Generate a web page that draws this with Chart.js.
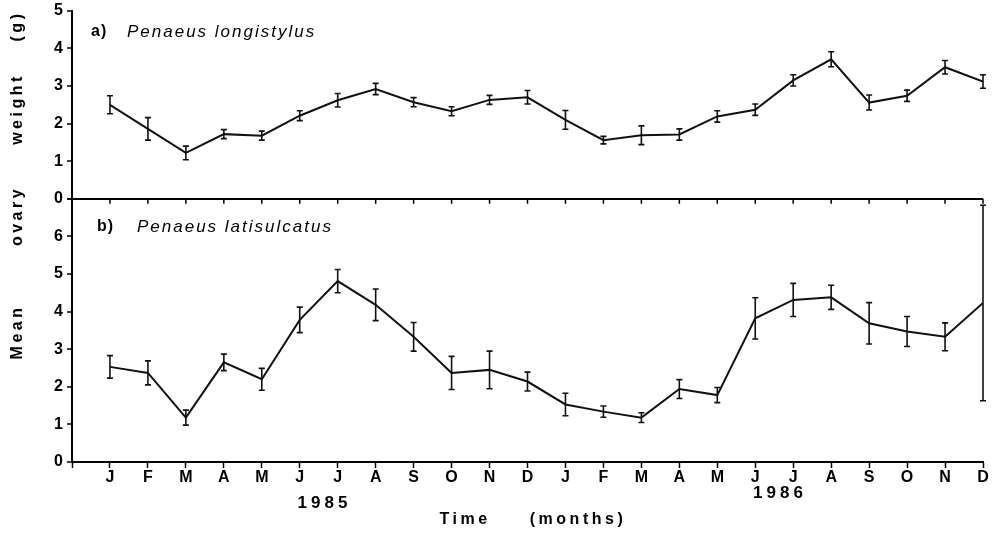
<!DOCTYPE html>
<html>
<head>
<meta charset="utf-8">
<script src="https://cdn.jsdelivr.net/npm/chart.js@4.4.0/dist/chart.umd.min.js"></script>
<style>
  html, body { margin: 0; padding: 0; background: #fff; }
  #wrap { width: 1000px; height: 535px; }
</style>
</head>
<body>
<div id="wrap"><canvas id="chart" width="1000" height="535"></canvas></div>
<script>
// months Jan 1985 -> Dec 1986
const months = ['J','F','M','A','M','J','J','A','S','O','N','D','J','F','M','A','M','J','J','A','S','O','N','D'];
const years = ['1985', '1986'];

// a) Penaeus longistylus - mean ovary weight (g) and error
const longistylusMean = [2.50, 1.86, 1.22, 1.72, 1.68, 2.21, 2.62, 2.92, 2.57, 2.33, 2.63, 2.70,
                         2.10, 1.56, 1.69, 1.71, 2.19, 2.37, 3.15, 3.71, 2.56, 2.74, 3.50, 3.12];
const longistylusErr  = [0.24, 0.30, 0.18, 0.12, 0.12, 0.13, 0.18, 0.15, 0.12, 0.12, 0.12, 0.18,
                         0.25, 0.10, 0.25, 0.15, 0.15, 0.15, 0.15, 0.20, 0.20, 0.15, 0.18, 0.18];

// b) Penaeus latisulcatus
const latisulcatusMean = [2.53, 2.37, 1.18, 2.65, 2.20, 3.78, 4.81, 4.18, 3.33, 2.37, 2.45, 2.14,
                          1.53, 1.34, 1.18, 1.94, 1.78, 3.82, 4.31, 4.38, 3.69, 3.47, 3.33, 4.23];
const latisulcatusErr  = [0.30, 0.32, 0.20, 0.22, 0.29, 0.34, 0.31, 0.42, 0.38, 0.44, 0.50, 0.25,
                          0.30, 0.15, 0.13, 0.25, 0.20, 0.55, 0.44, 0.32, 0.55, 0.40, 0.37, 2.60];

const topMax = 5;
const bottomMax = 7;

const FONT = '"Liberation Sans", Arial, sans-serif';
Chart.defaults.font.family = FONT;
Chart.defaults.color = '#000';

// error bars + small ticks on the panel divider
const errorBars = {
    id: 'errorBars',
    afterDatasetsDraw(chart) {
        const ctx = chart.ctx;
        const xs = chart.scales.x;
        chart.data.datasets.forEach(ds => {
            const ys = chart.scales[ds.yAxisID];
            ctx.save();
            ctx.strokeStyle = '#111';
            ctx.lineWidth = 1.6;
            ds.data.forEach((p, i) => {
                const e = ds.err[i];
                const x = xs.getPixelForValue(p.x);
                const y1 = ys.getPixelForValue(p.y + e);
                const y2 = ys.getPixelForValue(p.y - e);
                ctx.beginPath();
                ctx.moveTo(x, y1); ctx.lineTo(x, y2);
                ctx.moveTo(x - 3, y1); ctx.lineTo(x + 3, y1);
                ctx.moveTo(x - 3, y2); ctx.lineTo(x + 3, y2);
                ctx.stroke();
            });
            ctx.restore();
        });
        // ticks under the divider line
        const yd = chart.scales.yTop.getPixelForValue(0);
        ctx.save();
        ctx.strokeStyle = '#000';
        ctx.lineWidth = 1.5;
        months.forEach((m, i) => {
            const x = xs.getPixelForValue(i);
            ctx.beginPath();
            ctx.moveTo(x, yd);
            ctx.lineTo(x, yd + 5);
            ctx.stroke();
        });
        ctx.restore();
    }
};

// panel labels, axis titles, years
const labels = {
    id: 'labels',
    afterDraw(chart) {
        const ctx = chart.ctx;
        const xs = chart.scales.x;
        ctx.save();
        ctx.fillStyle = '#000';
        ctx.textBaseline = 'middle';

        ctx.textAlign = 'left';
        ctx.letterSpacing = '1px';
        ctx.font = 'bold 16px ' + FONT;
        ctx.fillText('a)', 91, 32);
        ctx.fillText('b)', 97, 227);
        ctx.letterSpacing = '2px';
        ctx.font = 'italic 17px ' + FONT;
        ctx.fillText('Penaeus longistylus', 127, 32);
        ctx.fillText('Penaeus latisulcatus', 137, 227);

        ctx.textAlign = 'center';
        ctx.letterSpacing = '4px';
        ctx.font = 'bold 17px ' + FONT;
        ctx.fillText(years[0], xs.getPixelForValue(5.6) + 2, 503);
        ctx.fillText(years[1], xs.getPixelForValue(17.6) + 2, 493);

        ctx.letterSpacing = '3.5px';
        ctx.font = 'bold 16px ' + FONT;
        ctx.fillText('Time', 465, 520);
        ctx.fillText('(months)', 578, 520);

        // y title, rotated
        ctx.translate(18, 0);
        ctx.rotate(-Math.PI / 2);
        [['Mean', 334], ['ovary', 218], ['weight', 111], ['(g)', 28]].forEach(([w, y]) => {
            ctx.fillText(w, -y + 2, 0);
        });
        ctx.restore();
    }
};

const tickFont = { family: FONT, size: 16, weight: 'bold', lineHeight: 0.85 };

const yScale = (max, stackWeight) => ({
    type: 'linear',
    position: 'left',
    stack: 'ovary',
    stackWeight: stackWeight,
    min: 0,
    max: max,
    ticks: {
        stepSize: 1,
        autoSkip: false,
        font: tickFont,
        padding: 4,
        callback: v => (v === max && max === bottomMax) ? '' : v
    },
    grid: {
        drawOnChartArea: true,
        color: c => (c.tick && c.tick.value === 0 && max === topMax) ? '#000' : 'rgba(0,0,0,0)',
        lineWidth: 2,
        tickLength: 5,
        tickColor: '#000',
        tickWidth: 1.5
    },
    border: { display: true, color: '#000', width: 2 },
    afterFit: s => { s.width = 30; }
});

new Chart(document.getElementById('chart'), {
    type: 'line',
    data: {
        datasets: [
            {
                label: 'Penaeus longistylus',
                data: months.map((m, i) => ({ x: i, y: longistylusMean[i] })),
                err: longistylusErr,
                yAxisID: 'yTop',
                borderColor: '#111',
                borderWidth: 2,
                pointRadius: 0,
                tension: 0
            },
            {
                label: 'Penaeus latisulcatus',
                data: months.map((m, i) => ({ x: i, y: latisulcatusMean[i] })),
                err: latisulcatusErr,
                yAxisID: 'yBot',
                borderColor: '#111',
                borderWidth: 2,
                pointRadius: 0,
                tension: 0
            }
        ]
    },
    options: {
        responsive: false,
        animation: false,
        layout: { padding: { top: 4, left: 42, right: 17, bottom: 0 } },
        plugins: { legend: { display: false }, tooltip: { enabled: false } },
        scales: {
            x: {
                type: 'linear',
                min: -1,
                max: 23,
                ticks: {
                    stepSize: 1,
                    autoSkip: false,
                    maxRotation: 0,
                    padding: 0,
                    font: { family: FONT, size: 16, weight: 'bold' },
                    callback: v => months[v] ?? ''
                },
                grid: { drawOnChartArea: false, tickLength: 6, tickColor: '#000', tickWidth: 1.5 },
                border: { display: true, color: '#000', width: 2 },
                afterFit: s => { s.height = 73; }
            },
            yBot: yScale(bottomMax, 7),
            yTop: yScale(topMax, 5)
        }
    },
    plugins: [errorBars, labels]
});
</script>
</body>
</html>
